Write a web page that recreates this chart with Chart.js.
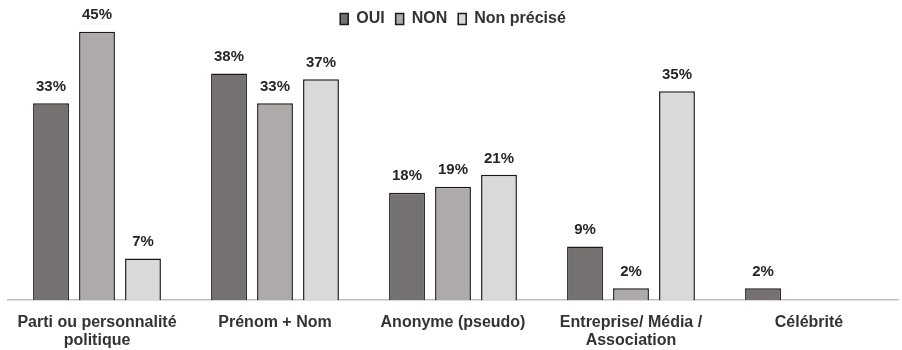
<html>
<head>
<script src="https://cdn.jsdelivr.net/npm/chart.js@4.4.1/dist/chart.umd.min.js"></script>
<style>
  html, body { margin: 0; height: 100%; background: #fff; }
  .graph { width: 902px; height: 350px; }
</style>
</head>
<body>
<div class="graph"><canvas id="myChart"></canvas></div>
<script>
  const categories = [
    ["Parti ou personnalité", "politique"],
    "Prénom + Nom",
    "Anonyme (pseudo)",
    ["Entreprise/ Média /", "Association"],
    "Célébrité"
  ];
  const oui = [33, 38, 18, 9, 2];
  const non = [45, 33, 19, 2, null];
  const nonPrecise = [7, 37, 21, 35, null];

  // draw the % labels above each bar
  const valueLabels = {
    id: "valueLabels",
    afterDatasetsDraw(chart) {
      const ctx = chart.ctx;
      ctx.save();
      ctx.font = "bold 15px 'Liberation Sans', Arial";
      ctx.fillStyle = "#262626";
      ctx.textAlign = "center";
      ctx.textBaseline = "bottom";
      chart.data.datasets.forEach((ds, i) => {
        chart.getDatasetMeta(i).data.forEach((bar, j) => {
          const v = ds.data[j];
          if (v == null) return;
          ctx.fillText(v + "%", bar.x, bar.y - 9);
        });
      });
      ctx.restore();
    }
  };

  const common = {
    borderColor: "#1a1a1a",
    borderWidth: 1.5,
    borderSkipped: "bottom",
    categoryPercentage: 0.775,
    barPercentage: 0.78,
    clip: false
  };

  new Chart(document.getElementById("myChart"), {
    type: "bar",
    data: {
      labels: categories,
      datasets: [
        { label: "OUI", data: oui, backgroundColor: "#767171", ...common },
        { label: "NON", data: non, backgroundColor: "#aeaaaa", ...common },
        { label: "Non précisé", data: nonPrecise, backgroundColor: "#d9d9d9", ...common }
      ]
    },
    options: {
      responsive: true,
      maintainAspectRatio: false,
      animation: false,
      layout: { padding: { left: 8, right: 4, top: 0, bottom: -13 } },
      plugins: {
        legend: {
          position: "top",
          labels: {
            boxWidth: 8,
            boxHeight: 11,
            padding: 11,
            color: "#333",
            font: { family: "'Liberation Sans', Arial", size: 16, weight: "bold" }
          }
        },
        tooltip: { enabled: false }
      },
      scales: {
        x: {
          grid: { display: false, drawTicks: false },
          border: { color: "#bfbfbf", width: 1.5 },
          ticks: {
            color: "#333",
            padding: 13,
            maxRotation: 0,
            font: { family: "'Liberation Sans', Arial", size: 16, weight: "bold", lineHeight: 1.15 }
          }
        },
        y: {
          display: false,
          min: 0,
          max: 44.1
        }
      }
    },
    plugins: [valueLabels]
  });
</script>
</body>
</html>
